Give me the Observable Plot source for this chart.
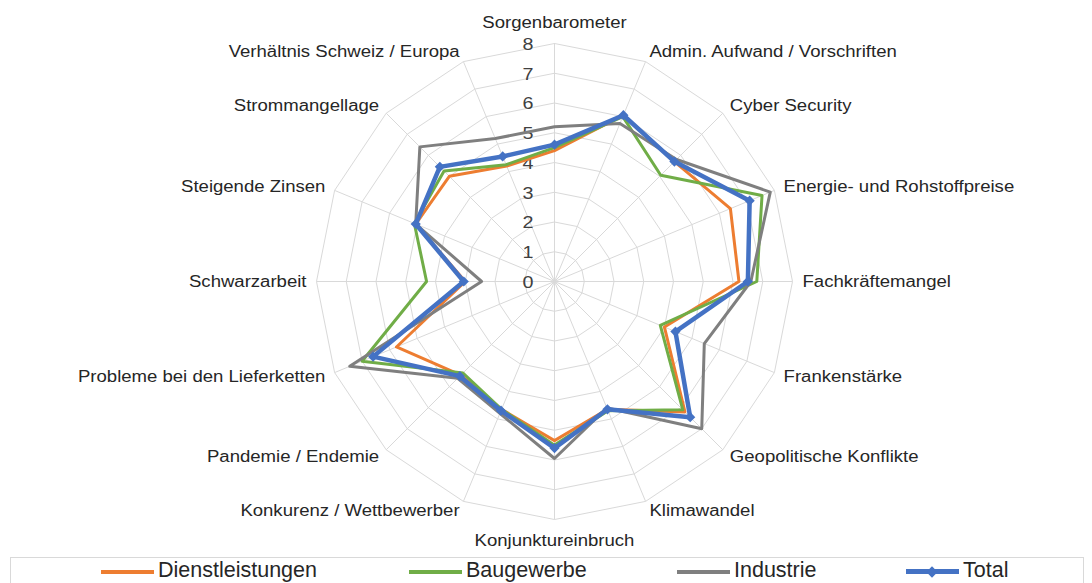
<!DOCTYPE html>
<html><head><meta charset="utf-8">
<script src="https://cdn.jsdelivr.net/npm/d3@7"></script>
<script src="https://cdn.jsdelivr.net/npm/@observablehq/plot@0.6"></script>
<style>
body{margin:0;background:#fff;font-family:"Liberation Sans",Arial,sans-serif;}
#chart{position:relative;width:1092px;height:583px;overflow:hidden;background:#fff;}
#chart svg{display:block;}
.legend{position:absolute;left:10px;top:557px;width:1074px;height:40px;border:1px solid #d9d9d9;box-sizing:border-box;background:#fff;}
.item{position:absolute;top:2px;height:21px;font-size:21.5px;line-height:21px;color:#262626;white-space:nowrap;}
.sw{position:absolute;top:10px;width:53px;height:4px;}
.lab{position:absolute;top:0;}
.dia{position:absolute;top:-3px;left:22px;width:8px;height:8px;transform:rotate(45deg);}
</style></head><body><div id="chart"></div><script>
// Categories in clockwise order starting at the top
const categories = [
  "Sorgenbarometer", "Admin. Aufwand / Vorschriften", "Cyber Security",
  "Energie- und Rohstoffpreise", "Fachkräftemangel", "Frankenstärke",
  "Geopolitische Konflikte", "Klimawandel", "Konjunktureinbruch",
  "Konkurenz / Wettbewerber", "Pandemie / Endemie", "Probleme bei den Lieferketten",
  "Schwarzarbeit", "Steigende Zinsen", "Strommangellage", "Verhältnis Schweiz / Europa"
];
const dienstleistungen = [4.4, 6.05, 5.7, 6.4, 6.2, 4.0, 6.2, 4.65, 5.35, 4.65, 4.45, 5.75, 3.0, 5.05, 5.0, 4.2];
const baugewerbe       = [4.5, 6.0, 5.05, 7.55, 6.8, 3.85, 6.1, 4.7, 5.5, 4.65, 4.35, 7.0, 4.3, 5.1, 5.25, 4.25];
const industrie        = [5.2, 5.75, 5.8, 7.85, 6.6, 5.45, 7.0, 4.6, 5.95, 4.8, 4.6, 7.45, 2.45, 5.05, 6.4, 5.2];
const total            = [4.6, 6.05, 5.7, 7.1, 6.5, 4.4, 6.45, 4.65, 5.6, 4.7, 4.5, 6.6, 3.05, 5.05, 5.45, 4.55];
const tickValues = [0, 1, 2, 3, 4, 5, 6, 7, 8];
const seriesNames = ["Dienstleistungen", "Baugewerbe", "Industrie", "Total"];
const seriesColors = ["#ED7D31", "#70AD47", "#7F7F7F", "#4472C4"];

const seriesValues = [dienstleistungen, baugewerbe, industrie, total];
const n = categories.length;
const maxR = 8;
const W = 1092, H = 556, cx = 554, cy = 281, k = 238 / maxR; // px per unit
const ang = i => (i % n) * 2 * Math.PI / n;
const px = (r, i) => r * Math.sin(ang(i));
const py = (r, i) => r * Math.cos(ang(i));

// grid rings
const rings = [];
for (let lv = 1; lv <= maxR; lv++) for (let i = 0; i <= n; i++) rings.push({lv, i});
// series closed paths
const seriesData = seriesNames.map((s, si) => {
  const arr = [];
  for (let i = 0; i <= n; i++) arr.push({s, i, v: seriesValues[si][i % n]});
  return arr;
});
// category labels
const labels = categories.map((c, i) => {
  const t = ang(i);
  let ox = 10 * Math.sin(t), oy = -10 * Math.cos(t);
  if (i === 0) oy = -21;
  if (i === n / 2) oy = 21;
  return {c, i, x: px(maxR, i) + ox / k, y: py(maxR, i) - oy / k,
          side: (i === 0 || i === n / 2) ? "middle" : (i < n / 2 ? "start" : "end")};
});
const font = "Liberation Sans, Arial, sans-serif";
const marks = [
  Plot.line(rings, {x: d => px(d.lv, d.i), y: d => py(d.lv, d.i), z: "lv", stroke: "#d9d9d9", strokeWidth: 1}),
  Plot.link(categories, {x1: 0, y1: 0, x2: (d, i) => px(maxR, i), y2: (d, i) => py(maxR, i), stroke: "#d9d9d9", strokeWidth: 1}),
  Plot.text(tickValues, {x: 0, y: d => d, text: d => String(d), textAnchor: "end", dx: -21, dy: 1, fontSize: 17, fill: "#404040", fontFamily: font}),
];
seriesData.forEach((arr, si) => {
  marks.push(Plot.line(arr, {x: d => px(d.v, d.i), y: d => py(d.v, d.i), stroke: seriesColors[si],
    strokeWidth: si === 3 ? 4.5 : 3, strokeLinejoin: "round", curve: "linear"}));
});
marks.push(Plot.dot(total, {x: (d, i) => px(d, i), y: (d, i) => py(d, i), symbol: "diamond2", r: 4.6, fill: seriesColors[3], stroke: null}));
["start", "end", "middle"].forEach(side => {
  marks.push(Plot.text(labels.filter(d => d.side === side), {x: "x", y: "y", text: "c", textAnchor: side, fontSize: 16, fill: "#262626", fontFamily: font}));
});

const plot = Plot.plot({
  width: W, height: H, margin: 0,
  x: {domain: [-cx / k, (W - cx) / k], axis: null},
  y: {domain: [-(H - cy) / k, cy / k], axis: null},
  style: {background: "#fff", fontFamily: font},
  marks
});
// widen text glyphs horizontally like the reference rendering
plot.querySelectorAll("text").forEach(t => {
  const tr = t.getAttribute("transform");
  if (tr) t.setAttribute("transform", tr + " scale(1.16,1)");
  else {
    const x = +t.getAttribute("x") || 0, y = +t.getAttribute("y") || 0;
    t.removeAttribute("x"); t.removeAttribute("y");
    t.setAttribute("transform", `translate(${x},${y}) scale(1.16,1)`);
  }
});
const chart = document.getElementById("chart");
chart.appendChild(plot);

// legend below the SVG
const legend = document.createElement("div");
legend.className = "legend";
const lx = [90, 398, 666, 895];
seriesNames.forEach((s, si) => {
  const it = document.createElement("div");
  it.className = "item";
  it.style.left = lx[si] + "px";
  const sw = document.createElement("div");
  sw.className = "sw"; sw.style.left = "0px"; sw.style.background = seriesColors[si];
  if (si === 3) { sw.style.height = "5px"; sw.style.top = "9px";
    const d = document.createElement("div"); d.className = "dia"; d.style.background = seriesColors[si]; d.style.top = "-1.5px"; sw.appendChild(d); }
  const lb = document.createElement("span");
  lb.className = "lab"; lb.style.left = "57px"; lb.textContent = s;
  it.appendChild(sw); it.appendChild(lb);
  legend.appendChild(it);
});
chart.appendChild(legend);
</script></body></html>
